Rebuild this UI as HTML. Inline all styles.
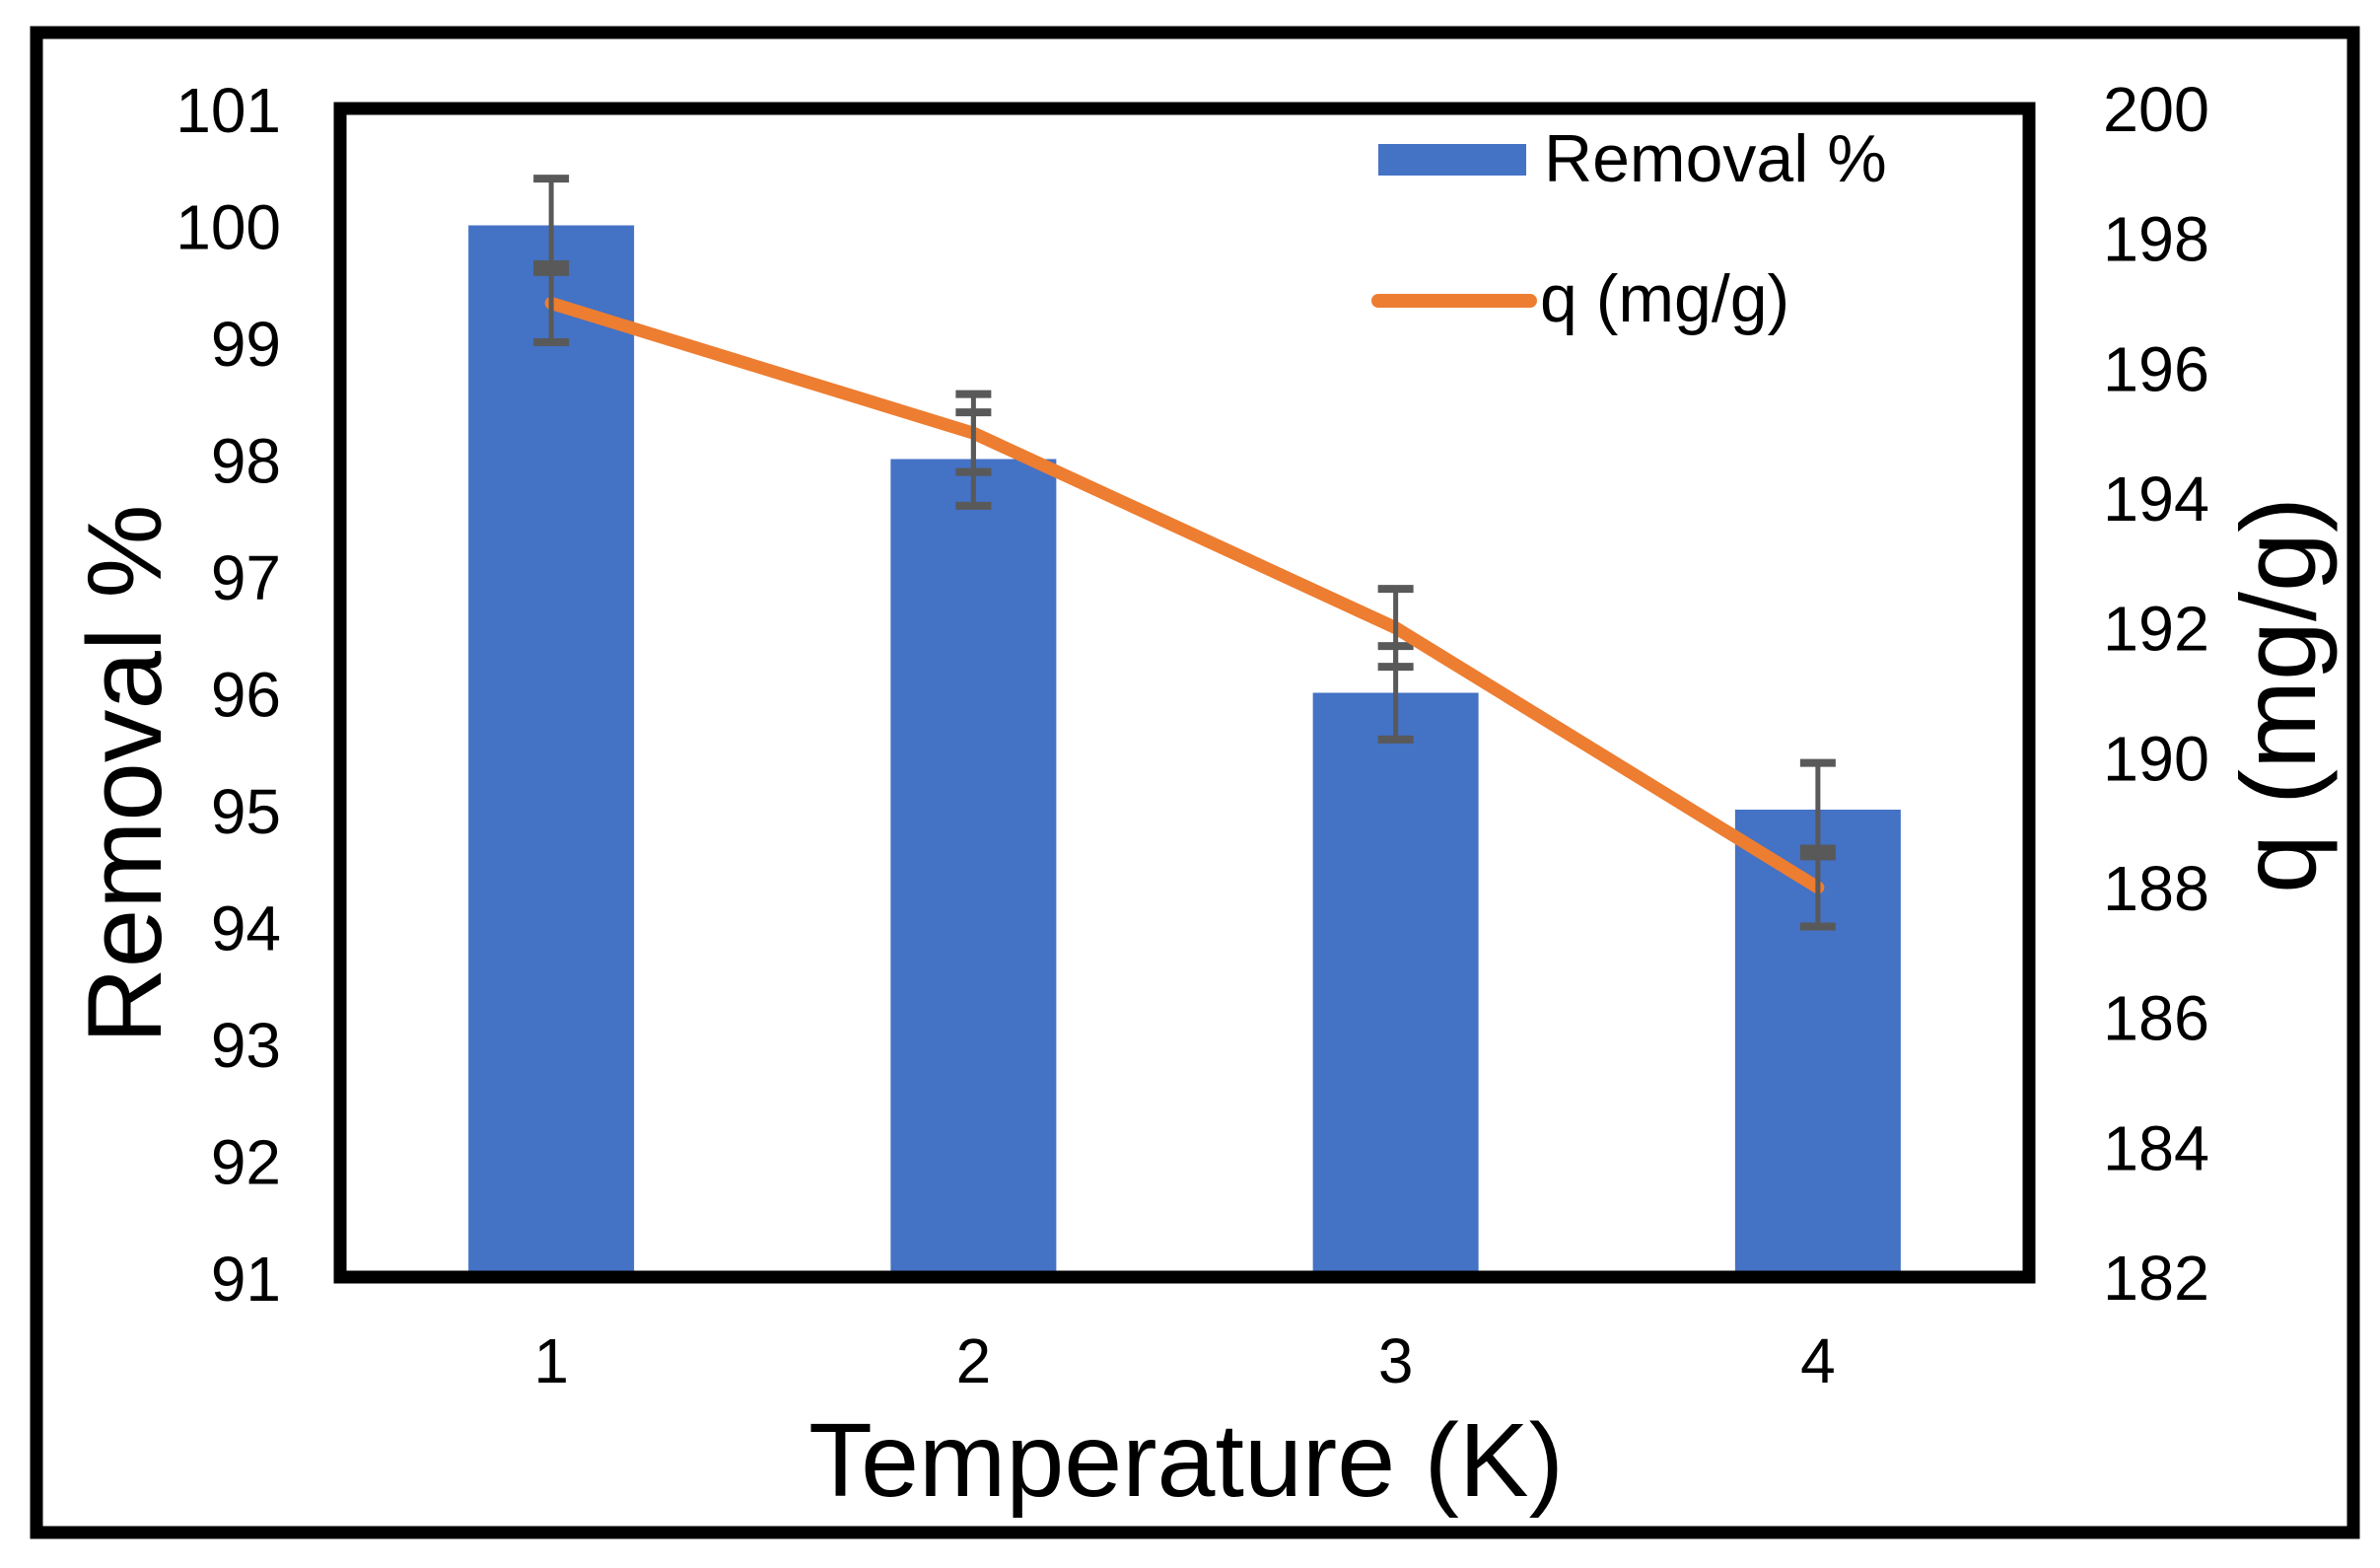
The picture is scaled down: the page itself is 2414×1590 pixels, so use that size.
<!DOCTYPE html>
<html><head><meta charset="utf-8"><style>
html,body{margin:0;padding:0;background:#fff;}
svg{display:block;}
text{font-family:"Liberation Sans",Arial,sans-serif;fill:#000;}
</style></head><body>
<svg id="chart" width="2414" height="1590" viewBox="0 0 2414 1590" xmlns="http://www.w3.org/2000/svg">
<rect x="37" y="33" width="2350" height="1521" fill="none" stroke="#000" stroke-width="13"/>
<g id="marks"></g>
<rect x="345" y="110" width="1713" height="1185" fill="none" stroke="#000" stroke-width="13"/>
<g id="axes"></g>
<g>
<rect x="1398" y="146" width="150" height="32" fill="#4472C4"/>
<text x="1566" y="184" font-size="68">Removal %</text>
<line x1="1398" y1="305" x2="1552" y2="305" stroke="#ED7D31" stroke-width="14" stroke-linecap="round"/>
<text x="1562" y="326" font-size="68">q (mg/g)</text>
</g>
<text x="1203" y="1517" font-size="106" text-anchor="middle">Temperature (K)</text>
<text transform="translate(163,785) rotate(-90)" font-size="107" text-anchor="middle">Removal %</text>
<text transform="translate(2348,705) rotate(-90)" font-size="108" text-anchor="middle">q (mg/g)</text>
</svg>
<script>
const categories = ["1","2","3","4"];
const removal = [100, 98, 96, 95];
const removalErr = [0.4, 0.4, 0.4, 0.4];
const qValues = [197, 195, 192, 188];
const qErr = [0.6, 0.6, 0.6, 0.6];
const leftTicks = [91,92,93,94,95,96,97,98,99,100,101];
const rightTicks = [182,184,186,188,190,192,194,196,198,200];

const NS = "http://www.w3.org/2000/svg";
const PL = 345, PR = 2058, PT = 110, PB = 1295;
const yL = v => PB - (v - 91) / (101 - 91) * (PB - PT);
const yR = v => PB - (v - 182) / (200 - 182) * (PB - PT);
const band = (PR - PL) / categories.length;
const xC = i => PL + band * (i + 0.5);
const barW = 168;

function mk(tag, attrs, parent) {
  const e = document.createElementNS(NS, tag);
  for (const k in attrs) e.setAttribute(k, attrs[k]);
  parent.appendChild(e);
  return e;
}
const marks = document.getElementById('marks');
const axes = document.getElementById('axes');

categories.forEach((c, i) => {
  const b = mk('rect', {x: xC(i) - barW/2, y: yL(removal[i]), width: barW, height: PB - yL(removal[i]), fill: '#4472C4'}, marks);
  
  
});
function errBar(x, yTop, yBot, name) {
  const g = mk('g', {stroke: '#595959', 'stroke-width': 5}, marks);
  
  
  mk('line', {x1: x, y1: yTop, x2: x, y2: yBot}, g);
  mk('line', {x1: x - 18, y1: yTop, x2: x + 18, y2: yTop, 'stroke-width': 8}, g);
  mk('line', {x1: x - 18, y1: yBot, x2: x + 18, y2: yBot, 'stroke-width': 8}, g);
}
categories.forEach((c, i) => {
  errBar(xC(i), yL(removal[i] + removalErr[i]), yL(removal[i] - removalErr[i]), 'error-bar-removal-' + c);
});
const pts = qValues.map((v, i) => xC(i) + ',' + yR(v)).join(' ');
const line = mk('polyline', {points: pts, fill: 'none', stroke: '#ED7D31', 'stroke-width': 13, 'stroke-linecap': 'round', 'stroke-linejoin': 'round'}, marks);


categories.forEach((c, i) => {
  errBar(xC(i), yR(qValues[i] + qErr[i]), yR(qValues[i] - qErr[i]), 'error-bar-q-' + c);
});

leftTicks.forEach(t => {
  const e = mk('text', {x: 285, y: yL(t) + 24, 'font-size': 64, 'text-anchor': 'end'}, axes);
  e.textContent = t;
  
  
});
rightTicks.forEach(t => {
  const e = mk('text', {x: 2133, y: yR(t) + 23, 'font-size': 64, 'textLength': 108, 'lengthAdjust': 'spacingAndGlyphs'}, axes);
  e.textContent = t;
  
  
});
categories.forEach((c, i) => {
  const e = mk('text', {x: xC(i), y: 1402, 'font-size': 64, 'text-anchor': 'middle'}, axes);
  e.textContent = c;
  
  
});
</script>
</body></html>
